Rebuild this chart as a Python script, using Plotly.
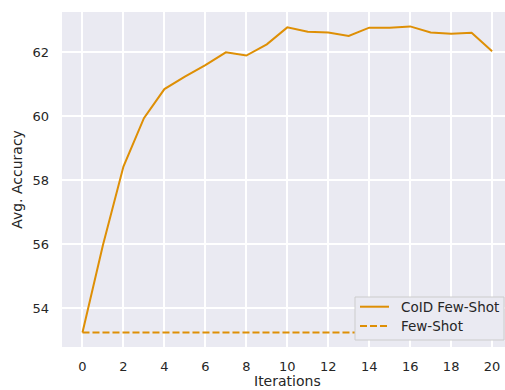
import plotly.graph_objects as go

iterations = list(range(21))
cold_few_shot = [53.23, 55.97, 58.42, 59.93, 60.84, 61.23, 61.59, 61.99, 61.89, 62.24,
                 62.77, 62.63, 62.61, 62.50, 62.76, 62.76, 62.80, 62.61, 62.57, 62.60, 62.02]
few_shot = [53.23] * 21
series_names = ["CoID Few-Shot", "Few-Shot"]
x_ticks = list(range(0, 21, 2))
y_ticks = [54, 56, 58, 60, 62]

color = "#DE8F05"
font = "DejaVu Sans"
txt = "#262626"
dashes = ["solid", "7px,3px"]

fig = go.Figure()
for name, ys, dash in zip(series_names, [cold_few_shot, few_shot], dashes):
    fig.add_trace(go.Scatter(x=iterations, y=ys, mode="lines", name=name,
                             line=dict(color=color, width=2, dash=dash), showlegend=False))

# plot area in px: x 62..505, y 12..347
W, H, L, T, B = 505, 390, 62, 12, 43
pw, ph = W - L, H - T - B
px = lambda v: (v - L) / pw
py = lambda v: (H - B - v) / ph

shapes = [dict(type="rect", xref="paper", yref="paper",
               x0=px(355), x1=px(504), y0=py(340), y1=py(297),
               fillcolor="#EAEAF2", line=dict(color="#CCCCCC", width=1), layer="above")]
annotations = []
for i, (name, dash) in enumerate(zip(series_names, dashes)):
    yy = py(306.7 + i * 19.3)
    shapes.append(dict(type="line", xref="paper", yref="paper", x0=px(360), x1=px(389),
                       y0=yy, y1=yy, line=dict(color=color, width=2, dash=dash), layer="above"))
    annotations.append(dict(text=name, xref="paper", yref="paper", x=px(399), y=yy,
                            xanchor="left", yanchor="middle", showarrow=False,
                            font=dict(family=font, size=13.5, color=txt)))

annotations.append(dict(text="Iterations", x=10, xref="x", y=py(381), yref="paper",
                        yanchor="middle", showarrow=False,
                        font=dict(family=font, size=14, color=txt)))

fig.update_layout(
    width=W, height=H,
    margin=dict(l=L, r=0, t=T, b=B),
    paper_bgcolor="white", plot_bgcolor="#EAEAF2",
    font=dict(family=font, size=13, color=txt),
    showlegend=False,
    xaxis=dict(range=[-1, 20.63], tickvals=x_ticks, showgrid=True, gridcolor="white",
               gridwidth=1.5, zeroline=False, showline=False, ticks="",
               ticklabelstandoff=10, tickfont=dict(size=13, color=txt)),
    yaxis=dict(range=[52.78, 63.25], tickvals=y_ticks, showgrid=True, gridcolor="white",
               gridwidth=1.5, zeroline=False, showline=False, ticks="",
               ticklabelstandoff=12, tickfont=dict(size=13, color=txt),
               title=dict(text="Avg. Accuracy", font=dict(size=14, color=txt), standoff=6)),
    shapes=shapes,
    annotations=annotations,
)

fig.write_html("out.html")
